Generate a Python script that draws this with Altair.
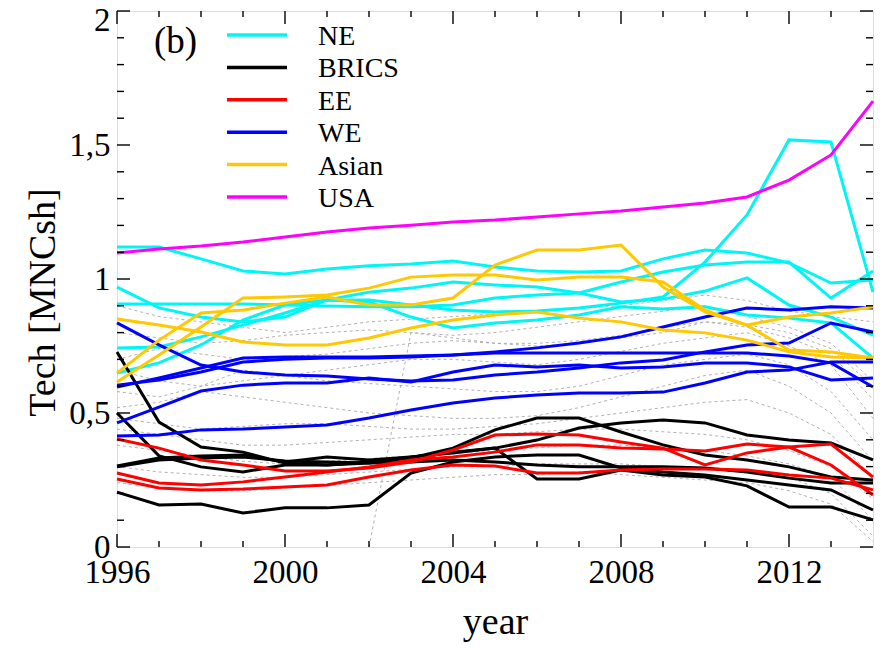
import altair as alt
import pandas as pd

years = list(range(1996, 2015))

groups = ["NE", "BRICS", "EE", "WE", "Asian", "USA"]
colors = ["#00F5F5", "#000000", "#FF0000", "#0000FF", "#FFC800", "#FF00FF"]

usa = [1.097, 1.112, 1.123, 1.138, 1.157, 1.175, 1.190, 1.201, 1.213, 1.220, 1.231, 1.243, 1.254, 1.269, 1.284, 1.306, 1.369, 1.463, 1.664]

ne_1 = [1.119, 1.119, 1.075, 1.030, 1.019, 1.037, 1.049, 1.056, 1.067, 1.045, 1.030, 1.026, 1.030, 1.075, 1.108, 1.097, 1.060, 0.985, 0.996]
ne_2 = [0.970, 0.892, 0.858, 0.840, 0.858, 0.922, 0.951, 0.966, 0.989, 0.978, 0.970, 0.948, 0.914, 0.925, 0.955, 1.004, 0.903, 0.858, 0.791]
ne_3 = [0.907, 0.907, 0.907, 0.907, 0.903, 0.899, 0.896, 0.896, 0.903, 0.929, 0.940, 0.948, 0.989, 1.026, 1.052, 1.063, 1.063, 0.929, 1.030]
ne_4 = [0.743, 0.746, 0.784, 0.828, 0.873, 0.922, 0.914, 0.858, 0.817, 0.836, 0.847, 0.866, 0.896, 0.888, 0.896, 0.866, 0.854, 0.836, 0.705]
ne_5 = [0.649, 0.687, 0.754, 0.847, 0.903, 0.922, 0.922, 0.903, 0.884, 0.877, 0.881, 0.892, 0.910, 0.933, 1.063, 1.239, 1.519, 1.511, 0.951]

asian_1 = [0.851, 0.828, 0.802, 0.765, 0.754, 0.754, 0.780, 0.817, 0.847, 0.866, 0.877, 0.854, 0.840, 0.810, 0.799, 0.772, 0.728, 0.709, 0.705]
asian_2 = [0.616, 0.716, 0.821, 0.929, 0.933, 0.940, 0.966, 1.007, 1.015, 1.015, 0.996, 1.007, 1.007, 0.989, 0.884, 0.828, 0.858, 0.873, 0.896]
asian_3 = [0.649, 0.772, 0.873, 0.884, 0.910, 0.933, 0.903, 0.903, 0.929, 1.052, 1.108, 1.108, 1.127, 0.970, 0.877, 0.828, 0.735, 0.728, 0.705]

we_1 = [0.836, 0.754, 0.679, 0.653, 0.642, 0.638, 0.627, 0.619, 0.623, 0.642, 0.653, 0.668, 0.687, 0.698, 0.728, 0.754, 0.761, 0.836, 0.802]
we_2 = [0.597, 0.631, 0.668, 0.705, 0.709, 0.709, 0.709, 0.713, 0.716, 0.728, 0.743, 0.761, 0.784, 0.821, 0.858, 0.892, 0.884, 0.896, 0.892]
we_3 = [0.604, 0.623, 0.653, 0.690, 0.701, 0.705, 0.705, 0.709, 0.716, 0.724, 0.724, 0.724, 0.724, 0.724, 0.724, 0.724, 0.713, 0.687, 0.597]
we_4 = [0.463, 0.522, 0.582, 0.604, 0.612, 0.612, 0.631, 0.616, 0.653, 0.679, 0.672, 0.679, 0.668, 0.672, 0.687, 0.687, 0.672, 0.623, 0.631]
we_5 = [0.414, 0.418, 0.437, 0.440, 0.448, 0.455, 0.481, 0.511, 0.537, 0.556, 0.567, 0.575, 0.575, 0.578, 0.612, 0.653, 0.660, 0.690, 0.690]

ee_1 = [0.403, 0.369, 0.325, 0.306, 0.284, 0.284, 0.295, 0.317, 0.362, 0.418, 0.422, 0.418, 0.392, 0.369, 0.306, 0.351, 0.373, 0.384, 0.261]
ee_2 = [0.276, 0.239, 0.231, 0.243, 0.261, 0.280, 0.299, 0.325, 0.336, 0.354, 0.381, 0.381, 0.369, 0.366, 0.358, 0.384, 0.373, 0.306, 0.194]
ee_3 = [0.254, 0.220, 0.213, 0.216, 0.224, 0.231, 0.261, 0.287, 0.306, 0.302, 0.276, 0.276, 0.287, 0.291, 0.291, 0.287, 0.269, 0.257, 0.213]

brics_1 = [0.728, 0.466, 0.373, 0.354, 0.313, 0.306, 0.313, 0.332, 0.369, 0.437, 0.481, 0.481, 0.429, 0.381, 0.343, 0.325, 0.299, 0.261, 0.250]
brics_2 = [0.500, 0.340, 0.299, 0.280, 0.306, 0.306, 0.317, 0.336, 0.354, 0.369, 0.399, 0.444, 0.463, 0.474, 0.463, 0.418, 0.399, 0.388, 0.325]
brics_3 = [0.302, 0.332, 0.340, 0.343, 0.317, 0.336, 0.325, 0.336, 0.351, 0.369, 0.254, 0.254, 0.287, 0.269, 0.261, 0.228, 0.149, 0.149, 0.101]
brics_4 = [0.299, 0.325, 0.332, 0.336, 0.321, 0.317, 0.313, 0.317, 0.325, 0.317, 0.306, 0.299, 0.299, 0.299, 0.295, 0.280, 0.257, 0.239, 0.239]
brics_5 = [0.205, 0.157, 0.160, 0.127, 0.146, 0.146, 0.157, 0.276, 0.317, 0.336, 0.343, 0.343, 0.295, 0.280, 0.269, 0.250, 0.231, 0.213, 0.138]

other_1 = [0.90, 0.86, 0.84, 0.82, 0.80, 0.82, 0.84, 0.85, 0.86, 0.87, 0.88, 0.89, 0.90, 0.92, 0.94, 0.92, 0.88, 0.86, 0.84]
other_2 = [0.80, 0.78, 0.76, 0.77, 0.79, 0.80, 0.81, 0.80, 0.79, 0.80, 0.82, 0.84, 0.86, 0.88, 0.90, 0.86, 0.82, 0.76, 0.62]
other_3 = [0.70, 0.74, 0.72, 0.70, 0.71, 0.72, 0.74, 0.76, 0.77, 0.76, 0.75, 0.76, 0.78, 0.80, 0.84, 0.82, 0.78, 0.72, 0.55]
other_4 = [0.66, 0.62, 0.60, 0.62, 0.64, 0.66, 0.68, 0.70, 0.70, 0.69, 0.68, 0.70, 0.73, 0.76, 0.78, 0.80, 0.75, 0.68, 0.48]
other_5 = [0.58, 0.56, 0.60, 0.66, 0.64, 0.62, 0.61, 0.60, 0.59, 0.58, 0.58, 0.60, 0.64, 0.68, 0.70, 0.72, 0.68, 0.58, 0.40]
other_6 = [0.52, 0.54, 0.58, 0.56, 0.54, 0.52, 0.50, 0.49, 0.48, 0.48, 0.49, 0.52, 0.56, 0.60, 0.64, 0.66, 0.60, 0.50, 0.32]
other_7 = [0.48, 0.46, 0.44, 0.45, 0.46, 0.46, 0.45, 0.44, 0.44, 0.45, 0.46, 0.48, 0.50, 0.52, 0.54, 0.55, 0.50, 0.42, 0.26]
other_8 = [0.44, 0.42, 0.40, 0.38, 0.38, 0.39, 0.40, 0.41, 0.42, 0.42, 0.43, 0.44, 0.44, 0.43, 0.42, 0.40, 0.36, 0.30, 0.18]
other_9 = [0.38, 0.36, 0.34, 0.32, 0.31, 0.32, 0.33, 0.34, 0.35, 0.36, 0.37, 0.38, 0.38, 0.37, 0.36, 0.34, 0.31, 0.26, 0.10]
other_10 = [0.30, 0.28, 0.27, 0.26, 0.26, 0.27, 0.28, 0.29, 0.30, 0.30, 0.31, 0.31, 0.31, 0.30, 0.29, 0.28, 0.26, 0.20, 0.04]
other_11 = [0.24, 0.22, 0.21, 0.21, 0.22, 0.23, 0.24, 0.25, 0.26, 0.27, 0.27, 0.28, 0.27, 0.26, 0.25, 0.24, 0.21, 0.16, 0.02]
other_12 = [None, None, None, None, None, None, 0.00, 0.80, 0.78, 0.76, 0.76, 0.77, 0.79, 0.82, 0.84, 0.83, 0.80, 0.74, 0.60]

x_major = [1996, 2000, 2004, 2008, 2012]
x_minor = [1997, 1998, 1999, 2001, 2002, 2003, 2005, 2006, 2007, 2009, 2010, 2011, 2013]
y_major = [0.0, 0.5, 1.0, 1.5, 2.0]
y_minor = [0.1, 0.2, 0.3, 0.4, 0.6, 0.7, 0.8, 0.9, 1.1, 1.2, 1.3, 1.4, 1.6, 1.7, 1.8, 1.9]

series = [
    ("NE", "ne_1", ne_1), ("NE", "ne_2", ne_2), ("NE", "ne_3", ne_3), ("NE", "ne_4", ne_4), ("NE", "ne_5", ne_5),
    ("BRICS", "brics_1", brics_1), ("BRICS", "brics_2", brics_2), ("BRICS", "brics_3", brics_3),
    ("BRICS", "brics_4", brics_4), ("BRICS", "brics_5", brics_5),
    ("EE", "ee_1", ee_1), ("EE", "ee_2", ee_2), ("EE", "ee_3", ee_3),
    ("WE", "we_1", we_1), ("WE", "we_2", we_2), ("WE", "we_3", we_3), ("WE", "we_4", we_4), ("WE", "we_5", we_5),
    ("Asian", "asian_1", asian_1), ("Asian", "asian_2", asian_2), ("Asian", "asian_3", asian_3),
    ("USA", "usa", usa),
]
others = [other_1, other_2, other_3, other_4, other_5, other_6, other_7, other_8,
          other_9, other_10, other_11, other_12]

rows = []
for g, name, vals in series:
    for yr, v in zip(years, vals):
        rows.append({"group": g, "series": name, "year": yr, "value": v})
df = pd.DataFrame(rows)

grows = []
for i, vals in enumerate(others):
    for yr, v in zip(years, vals):
        if v is not None:
            grows.append({"series": f"o{i}", "year": yr, "value": v})
gdf = pd.DataFrame(grows)

FONT = "Liberation Serif"
W, H = 756, 536

xs = alt.Scale(domain=[1996, 2014], nice=False, zero=False)
ys = alt.Scale(domain=[0, 2], nice=False, zero=True)
x_axis = alt.Axis(values=x_major, format="d", tickSize=0, domain=False, grid=False,
                  labelFont=FONT, labelFontSize=33, labelColor="black", labelPadding=9,
                  labelFlush=False, title="year", titleFont=FONT, titleFontSize=38,
                  titleFontWeight="normal", titleColor="black", titleY=86,
                  titleBaseline="alphabetic")
y_axis = alt.Axis(values=y_major, format=".1~f", labelExpr="replace(datum.label, '.', ',')",
                  tickSize=0, domain=False, grid=False, labelFont=FONT, labelFontSize=33,
                  labelColor="black", labelPadding=7, labelFlush=False,
                  labelOffset={"condition": {"test": "datum.value == 2", "value": 9}, "value": 0},
                  title="Tech [MNCsh]", titleFont=FONT, titleFontSize=38,
                  titleFontWeight="normal", titleColor="black", titleX=-55, titleY=291,
                  titleBaseline="bottom", titleAngle=-90)
X = alt.X("year:Q", scale=xs, axis=x_axis)
Y = alt.Y("value:Q", scale=ys, axis=y_axis)
color_scale = alt.Scale(domain=groups, range=colors)

gray = alt.Chart(gdf).mark_line(strokeDash=[3, 3], strokeWidth=0.9, color="#a8a8a8").encode(
    x=X, y=Y, detail="series:N")
lines = alt.Chart(df).mark_line(strokeWidth=3).encode(
    x=X, y=Y, color=alt.Color("group:N", scale=color_scale, legend=None), detail="series:N")

def xticks(vals, y0, y1):
    d = pd.DataFrame({"year": vals})
    return alt.Chart(d).mark_rule(color="black", strokeWidth=1.4).encode(
        x=X, y=alt.value(y0), y2=alt.value(y1))

def yticks(vals, x0, x1):
    d = pd.DataFrame({"value": vals})
    return alt.Chart(d).mark_rule(color="black", strokeWidth=1.4).encode(
        y=Y, x=alt.value(x0), x2=alt.value(x1))

ticks = [
    xticks(x_major, H, H - 13), xticks(x_minor, H, H - 6),
    xticks(x_major, 0, 13), xticks(x_minor, 0, 6),
    yticks(y_major, 0, 13), yticks(y_minor, 0, 7),
    yticks(y_major, W, W - 13), yticks(y_minor, W, W - 7),
]

main = alt.layer(gray, lines, *ticks)

leg_df = pd.DataFrame({"group": groups})
leg_y = alt.Y("group:N", scale=alt.Scale(type="point", domain=groups, range=[24, 186], padding=0), axis=None)
leg_lines = alt.Chart(leg_df).mark_rule(strokeWidth=3.5).encode(
    y=leg_y, x=alt.value(110), x2=alt.value(170),
    color=alt.Color("group:N", scale=color_scale, legend=None))
leg_text = alt.Chart(leg_df).mark_text(align="left", baseline="middle", font=FONT, fontSize=28,
                                        color="black", dy=2).encode(
    y=leg_y, x=alt.value(201), text="group:N")
legend = alt.layer(leg_lines, leg_text)

panel = alt.Chart(pd.DataFrame({"t": ["(b)"]})).mark_text(
    align="left", baseline="middle", font=FONT, fontSize=37, color="black").encode(
    x=alt.value(37), y=alt.value(31), text="t:N")

chart = alt.layer(main, legend, panel).resolve_scale(
    y="independent"
).properties(
    width=W, height=H,
    autosize=alt.AutoSizeParams(type="none"),
    padding={"left": 117, "top": 11, "right": 13, "bottom": 101},
).configure_view(stroke="black", strokeWidth=2).configure(background="white")

chart.save("out.html", embed_options={"renderer": "svg", "actions": False})
